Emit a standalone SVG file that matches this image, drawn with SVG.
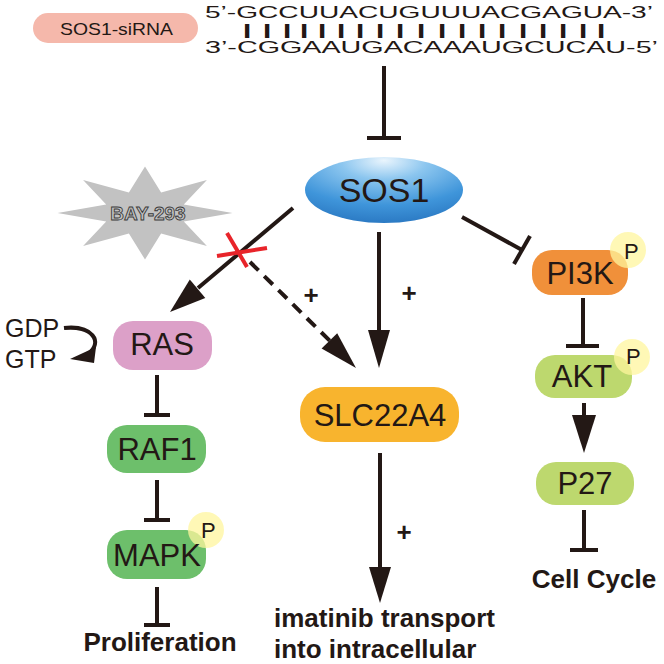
<svg xmlns="http://www.w3.org/2000/svg" width="664" height="664" viewBox="0 0 664 664">
<defs>
<radialGradient id="sosGrad" cx="0.5" cy="0.12" r="0.9" fx="0.5" fy="0.05">
<stop offset="0" stop-color="#eaf5fd"/>
<stop offset="0.3" stop-color="#8cc6ef"/>
<stop offset="0.7" stop-color="#3f95da"/>
<stop offset="1" stop-color="#2a78c2"/>
</radialGradient>
<style>
.lbl{font-family:"Liberation Sans",Arial,sans-serif;fill:#231815;}
.node{font-size:31px;text-anchor:middle;}
.bold{font-weight:bold;}
.ln{stroke:#231815;stroke-width:4;fill:none;}
.hd{fill:#231815;}
.pc{fill:#fff59d;opacity:0.75;}
.pt{font-size:22px;}
.plus{font-size:26px;font-weight:bold;text-anchor:middle;}
</style>
</defs>
<rect width="664" height="664" fill="#ffffff"/>

<g id="sirna">
<rect x="33" y="13" width="165" height="30" rx="15" fill="#f5b8ab"/>
<text class="lbl" x="60" y="35" font-size="16.5" textLength="113" lengthAdjust="spacingAndGlyphs">SOS1-siRNA</text>
</g>

<g id="sequence">
<text class="lbl" x="205" y="18" font-size="16" textLength="448" lengthAdjust="spacingAndGlyphs">5’-GCCUUACUGUUUACGAGUA-3’</text>
<text class="lbl bold" y="37" font-size="17" text-anchor="middle" stroke="#231815" stroke-width="1.8" x="247 267 287 304 322 341 360 380 400 421 442 462 482 502 523 543 563 583 601">IIIIIIIIIIIIIIIIIII</text>
<text class="lbl" x="205" y="53" font-size="16" textLength="453" lengthAdjust="spacingAndGlyphs">3’-CGGAAUGACAAAUGCUCAU-5’</text>
</g>

<g id="bay293">
<polygon fill="#c2c2c2" points="145,166.5 161.1,192.4 206.9,180.1 183.8,204.5 232.5,213 183.8,221.5 206.9,245.9 161.1,233.6 145,259.5 128.9,233.6 83.1,245.9 106.2,221.5 57.5,213 106.2,204.5 83.1,180.1 128.9,192.4"/>
<text x="148" y="220" font-family="Liberation Sans, Arial, sans-serif" font-size="19" font-weight="bold" text-anchor="middle" fill="#c2c2c2" stroke="#3a3a3a" stroke-width="0.9">BAY-293</text>
</g>

<g id="sos1">
<ellipse cx="384" cy="190" rx="79" ry="33" fill="url(#sosGrad)"/>
<text class="lbl" x="384" y="202" font-size="34" text-anchor="middle">SOS1</text>
</g>

<g id="connectors">
<line class="ln" x1="384" y1="66" x2="384" y2="138"/>
<line class="ln" x1="367" y1="138" x2="401" y2="138"/>
<line class="ln" x1="293" y1="208" x2="198" y2="288"/>
<polygon class="hd" points="170,312 189.8,279.5 205.3,297.9"/>
<line class="ln" x1="250" y1="262" x2="330" y2="341" stroke-dasharray="12 8"/>
<polygon class="hd" points="356,368 321.6,348.6 337.2,333.2"/>
<line x1="227" y1="233" x2="247" y2="267" stroke="#e8242a" stroke-width="4"/>
<line x1="217" y1="256" x2="267" y2="248" stroke="#e8242a" stroke-width="4"/>
<line class="ln" x1="379" y1="232" x2="379" y2="334"/>
<polygon class="hd" points="379,368 368,330 390,330"/>
<line class="ln" x1="462" y1="217" x2="522" y2="250"/>
<line class="ln" x1="514" y1="264" x2="530" y2="236"/>
<line class="ln" x1="157" y1="375" x2="157" y2="415"/>
<line class="ln" x1="144" y1="415" x2="170" y2="415"/>
<line class="ln" x1="157" y1="480" x2="157" y2="520"/>
<line class="ln" x1="144" y1="520" x2="170" y2="520"/>
<line class="ln" x1="157" y1="587" x2="157" y2="625"/>
<line class="ln" x1="144" y1="625" x2="170" y2="625"/>
<path class="ln" d="M64,328 C92,325 104,342 88,354"/>
<polygon class="hd" points="70,359 96,347 94,363"/>
<line class="ln" x1="583" y1="298" x2="583" y2="346"/>
<line class="ln" x1="566" y1="346" x2="599" y2="346"/>
<line class="ln" x1="584" y1="403" x2="584" y2="418"/>
<polygon class="hd" points="584,453 572,415 596,415"/>
<line class="ln" x1="584" y1="510" x2="584" y2="550"/>
<line class="ln" x1="570" y1="550" x2="598" y2="550"/>
<line class="ln" x1="380" y1="453" x2="380" y2="570"/>
<polygon class="hd" points="380,603 369,567 391,567"/>
<text class="lbl plus" x="311" y="304">+</text>
<text class="lbl plus" x="409" y="302">+</text>
<text class="lbl plus" x="404" y="541">+</text>
</g>

<g id="ras">
<rect x="113" y="321" width="99" height="49" rx="20" fill="#dca0c8"/>
<text class="lbl node" x="162" y="355">RAS</text>
</g>
<g id="gdp">
<text class="lbl" x="5" y="337" font-size="25">GDP</text>
</g>
<g id="gtp">
<text class="lbl" x="5" y="368" font-size="25">GTP</text>
</g>

<g id="raf1">
<rect x="107" y="425" width="99" height="48" rx="20" fill="#6dbf6b"/>
<text class="lbl node" x="157" y="460">RAF1</text>
</g>

<g id="mapk">
<rect x="107" y="530" width="99" height="49" rx="20" fill="#6dbf6b"/>
<circle class="pc" cx="206" cy="530" r="18"/>
<text class="lbl node" x="157" y="566">MAPK</text>
<text class="lbl pt" x="201" y="538">P</text>
</g>

<g id="proliferation">
<text class="lbl bold" x="160" y="651" font-size="26" text-anchor="middle">Proliferation</text>
</g>

<g id="slc22a4">
<rect x="300" y="387" width="159" height="55" rx="25" fill="#f8b42e"/>
<text class="lbl node" x="380" y="426">SLC22A4</text>
</g>

<g id="imatinib">
<text class="lbl bold" x="274" y="627" font-size="26">imatinib transport</text>
<text class="lbl bold" x="274" y="658" font-size="26">into intracellular</text>
</g>

<g id="pi3k">
<rect x="532" y="250" width="96" height="45" rx="20" fill="#f0903a"/>
<circle class="pc" cx="628" cy="250" r="18"/>
<text class="lbl node" x="580" y="284">PI3K</text>
<text class="lbl pt" x="624" y="259">P</text>
</g>

<g id="akt">
<rect x="535" y="355" width="97" height="43" rx="20" fill="#bdd86e"/>
<circle class="pc" cx="632" cy="357" r="18"/>
<text class="lbl node" x="582" y="387">AKT</text>
<text class="lbl pt" x="626" y="364">P</text>
</g>

<g id="p27">
<rect x="536" y="462" width="98" height="43" rx="20" fill="#bdd86e"/>
<text class="lbl node" x="585" y="494">P27</text>
</g>

<g id="cellcycle">
<text class="lbl bold" x="594" y="588" font-size="26" text-anchor="middle">Cell Cycle</text>
</g>
</svg>
